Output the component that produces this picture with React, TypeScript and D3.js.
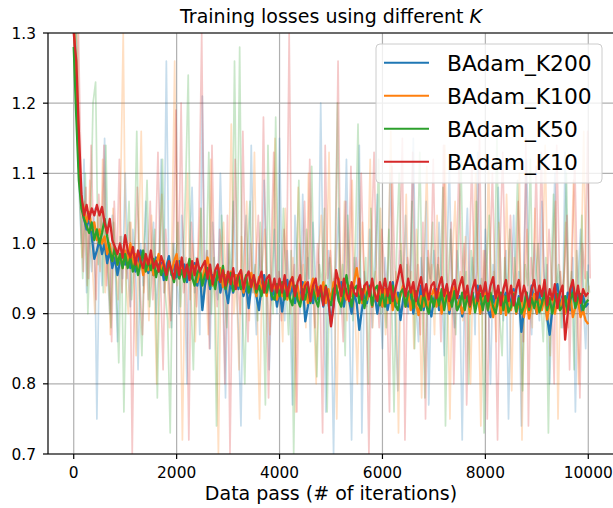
import { useMemo } from 'react'
import { scaleLinear, line, format } from 'd3'

// Training loss curves: faint raw losses + smoothed losses for four K values.
// Values are logged every STEP iterations (raw series are logged a few steps apart).

const STEP = 50
const X_TICKS = [0, 2000, 4000, 6000, 8000, 10000]
const Y_TICKS = [0.7, 0.8, 0.9, 1.0, 1.1, 1.2, 1.3]
const LABELS = ['BAdam_K200', 'BAdam_K100', 'BAdam_K50', 'BAdam_K10']
const COLORS = ['#1f77b4', '#ff7f0e', '#2ca02c', '#d62728']
const RAW_SHIFT = [0, 12, 25, 37]

const K200_SMOOTH = [
  1.32, 1.22, 1.12, 1.06, 1.035, 1.02, 1.04, 1.01, 0.978, 0.99,
  1.005, 0.985, 1.0, 0.972, 0.99, 0.965, 0.98, 0.955, 0.975, 0.985,
  0.97, 0.99, 0.965, 0.98, 0.96, 0.975, 0.99, 0.962, 0.978, 0.958,
  0.975, 0.955, 0.98, 0.96, 0.972, 0.948, 0.968, 0.982, 0.955, 0.97,
  0.952, 0.975, 0.958, 0.97, 0.945, 0.965, 0.95, 0.972, 0.94, 0.962,
  0.905, 0.94, 0.96, 0.935, 0.955, 0.94, 0.965, 0.93, 0.95, 0.935,
  0.915, 0.945, 0.93, 0.955, 0.935, 0.948, 0.925, 0.942, 0.908, 0.94,
  0.95, 0.925, 0.905, 0.94, 0.955, 0.93, 0.948, 0.92, 0.938, 0.91,
  0.935, 0.903, 0.93, 0.948, 0.925, 0.94, 0.915, 0.935, 0.92, 0.945,
  0.889, 0.91, 0.935, 0.915, 0.94, 0.92, 0.935, 0.91, 0.93, 0.918,
  0.885, 0.915, 0.94, 0.92, 0.945, 0.91, 0.935, 0.92, 0.9, 0.93,
  0.915, 0.877, 0.905, 0.93, 0.915, 0.94, 0.91, 0.928, 0.9, 0.925,
  0.91, 0.935, 0.905, 0.925, 0.945, 0.91, 0.93, 0.891, 0.92, 0.935,
  0.91, 0.93, 0.9, 0.925, 0.912, 0.94, 0.905, 0.925, 0.91, 0.896,
  0.92, 0.935, 0.905, 0.928, 0.912, 0.94, 0.9, 0.922, 0.935, 0.905,
  0.925, 0.896, 0.915, 0.935, 0.905, 0.93, 0.91, 0.94, 0.9, 0.925,
  0.935, 0.905, 0.895, 0.925, 0.91, 0.935, 0.9, 0.92, 0.93, 0.905,
  0.92, 0.935, 0.9, 0.925, 0.874, 0.905, 0.93, 0.91, 0.94, 0.915,
  0.9, 0.93, 0.91, 0.935, 0.895, 0.87, 0.905, 0.93, 0.942, 0.91,
  0.925, 0.9, 0.93, 0.905, 0.94, 0.912, 0.93, 0.9, 0.925, 0.91,
  0.915,
]

const K100_SMOOTH = [
  1.33, 1.21, 1.11, 1.06, 1.05, 1.03, 1.045, 1.02, 1.03, 1.005,
  1.02, 1.0, 1.01, 0.985, 1.0, 0.975, 0.995, 0.97, 0.985, 0.965,
  0.99, 0.975, 1.0, 0.97, 0.985, 0.96, 0.98, 0.955, 0.975, 0.962,
  0.98, 0.955, 0.97, 0.985, 0.96, 0.975, 0.95, 0.97, 0.958, 0.975,
  0.985, 0.955, 0.97, 0.948, 0.965, 0.975, 0.952, 0.968, 0.945, 0.96,
  0.95, 0.965, 0.98, 0.955, 0.94, 0.96, 0.948, 0.965, 0.938, 0.955,
  0.945, 0.96, 0.935, 0.955, 0.94, 0.962, 0.93, 0.95, 0.935, 0.958,
  0.94, 0.925, 0.952, 0.935, 0.945, 0.925, 0.95, 0.932, 0.945, 0.92,
  0.94, 0.925, 0.948, 0.92, 0.935, 0.952, 0.925, 0.94, 0.915, 0.935,
  0.945, 0.915, 0.935, 0.95, 0.92, 0.938, 0.925, 0.945, 0.915, 0.935,
  0.92, 0.945, 0.93, 0.95, 0.915, 0.935, 0.92, 0.94, 0.925, 0.945,
  0.965, 0.935, 0.915, 0.94, 0.92, 0.935, 0.91, 0.93, 0.92, 0.94,
  0.91, 0.935, 0.915, 0.94, 0.905, 0.93, 0.915, 0.925, 0.94, 0.91,
  0.93, 0.905, 0.935, 0.915, 0.898, 0.925, 0.91, 0.935, 0.905, 0.925,
  0.935, 0.91, 0.93, 0.9, 0.92, 0.935, 0.905, 0.925, 0.938, 0.905,
  0.92, 0.9, 0.915, 0.93, 0.9, 0.925, 0.91, 0.93, 0.9, 0.92,
  0.93, 0.905, 0.92, 0.895, 0.915, 0.93, 0.9, 0.925, 0.898, 0.92,
  0.905, 0.93, 0.9, 0.915, 0.925, 0.895, 0.92, 0.893, 0.912, 0.928,
  0.9, 0.92, 0.905, 0.925, 0.892, 0.915, 0.928, 0.9, 0.918, 0.905,
  0.922, 0.9, 0.915, 0.928, 0.895, 0.91, 0.92, 0.895, 0.905, 0.89,
  0.885,
]

const K50_SMOOTH = [
  1.28, 1.18, 1.09, 1.05, 1.035, 1.025, 1.015, 1.03, 1.005, 1.02,
  1.0, 1.015, 1.035, 1.01, 0.99, 0.975, 0.995, 0.97, 0.985, 0.965,
  0.985, 0.965, 0.98, 0.96, 0.975, 0.955, 0.972, 0.99, 0.96, 0.975,
  0.962, 0.978, 0.952, 0.97, 0.955, 0.968, 0.948, 0.975, 0.958, 0.945,
  0.968, 0.95, 0.962, 0.945, 0.96, 0.978, 0.952, 0.94, 0.958, 0.965,
  0.94, 0.955, 0.965, 0.94, 0.952, 0.935, 0.96, 0.945, 0.968, 0.935,
  0.95, 0.958, 0.932, 0.945, 0.955, 0.935, 0.94, 0.955, 0.93, 0.945,
  0.952, 0.93, 0.94, 0.925, 0.945, 0.93, 0.948, 0.925, 0.92, 0.942,
  0.925, 0.945, 0.92, 0.938, 0.922, 0.912, 0.94, 0.92, 0.91, 0.935,
  0.92, 0.94, 0.915, 0.935, 0.92, 0.91, 0.935, 0.915, 0.94, 0.92,
  0.912, 0.935, 0.94, 0.918, 0.91, 0.93, 0.955, 0.93, 0.91, 0.935,
  0.94, 0.915, 0.935, 0.908, 0.93, 0.938, 0.912, 0.935, 0.94, 0.912,
  0.93, 0.91, 0.935, 0.915, 0.94, 0.912, 0.905, 0.93, 0.935, 0.91,
  0.93, 0.935, 0.908, 0.932, 0.915, 0.905, 0.93, 0.912, 0.9, 0.925,
  0.91, 0.93, 0.912, 0.935, 0.905, 0.925, 0.93, 0.91, 0.932, 0.905,
  0.912, 0.93, 0.905, 0.925, 0.91, 0.93, 0.902, 0.92, 0.928, 0.905,
  0.925, 0.905, 0.93, 0.91, 0.9, 0.922, 0.93, 0.905, 0.925, 0.902,
  0.91, 0.928, 0.903, 0.922, 0.9, 0.91, 0.93, 0.905, 0.922, 0.908,
  0.925, 0.902, 0.915, 0.93, 0.905, 0.922, 0.9, 0.918, 0.928, 0.905,
  0.91, 0.925, 0.902, 0.92, 0.93, 0.908, 0.922, 0.928, 0.905, 0.915,
  0.92,
]

const K10_SMOOTH = [
  1.3, 1.26, 1.16, 1.07, 1.04, 1.055, 1.035, 1.05, 1.04, 1.055,
  1.04, 1.052, 1.03, 1.015, 1.035, 1.005, 0.995, 0.985, 1.0, 0.98,
  1.012, 0.99, 0.98, 0.995, 0.97, 0.99, 0.975, 0.965, 0.985, 0.97,
  0.99, 0.965, 0.975, 0.96, 0.982, 0.97, 0.955, 0.975, 0.962, 0.95,
  0.975, 0.955, 0.98, 0.952, 0.97, 0.948, 0.975, 0.955, 0.978, 0.96,
  0.968, 0.975, 0.95, 0.97, 0.942, 0.962, 0.97, 0.945, 0.962, 0.94,
  0.96, 0.942, 0.965, 0.935, 0.955, 0.962, 0.935, 0.952, 0.96, 0.938,
  0.955, 0.935, 0.948, 0.96, 0.93, 0.95, 0.955, 0.932, 0.95, 0.93,
  0.95, 0.93, 0.955, 0.925, 0.945, 0.952, 0.925, 0.945, 0.955, 0.92,
  0.94, 0.945, 0.918, 0.94, 0.95, 0.925, 0.94, 0.912, 0.938, 0.92,
  0.882, 0.91, 0.962, 0.945, 0.925, 0.95, 0.93, 0.918, 0.945, 0.93,
  0.925, 0.95, 0.92, 0.94, 0.945, 0.925, 0.95, 0.928, 0.918, 0.945,
  0.93, 0.95, 0.925, 0.945, 0.918, 0.935, 0.95, 0.969, 0.945, 0.925,
  0.95, 0.93, 0.945, 0.918, 0.938, 0.952, 0.925, 0.942, 0.92, 0.94,
  0.945, 0.922, 0.94, 0.952, 0.925, 0.942, 0.918, 0.938, 0.948, 0.922,
  0.94, 0.952, 0.922, 0.94, 0.912, 0.935, 0.948, 0.918, 0.94, 0.925,
  0.945, 0.918, 0.94, 0.952, 0.922, 0.94, 0.912, 0.935, 0.948, 0.918,
  0.94, 0.912, 0.935, 0.948, 0.918, 0.94, 0.925, 0.91, 0.935, 0.948,
  0.92, 0.94, 0.925, 0.948, 0.912, 0.935, 0.92, 0.942, 0.908, 0.93,
  0.94, 0.863, 0.9, 0.935, 0.948, 0.918, 0.94, 0.915, 0.935, 0.925,
  0.93,
]

const K200_RAW = [
  1.45, 1.3, 1.08, 1.0, 1.12, 0.93, 1.02, 0.96, 1.05, 0.75,
  1.0, 0.94, 1.15, 0.97, 0.9, 1.04, 0.98, 0.86, 1.01, 0.95,
  1.1, 0.96, 0.91, 1.02, 0.97, 0.82, 1.0, 0.94, 1.06, 0.92,
  0.98, 1.03, 0.9, 0.96, 1.12, 0.93, 1.26, 0.95, 0.88, 1.0,
  0.96, 0.9, 1.04, 0.97, 0.8, 0.99, 1.08, 0.93, 0.98, 0.87,
  1.21, 0.94, 0.99, 0.85, 1.03, 0.95, 0.92, 1.1, 0.96, 0.78,
  1.0, 0.93, 1.06, 0.96, 0.88, 0.74, 0.98, 1.04, 0.92, 1.14,
  0.95, 0.87, 1.0, 0.93, 1.09, 0.97, 0.82, 0.95, 1.02, 0.9,
  1.15, 0.94, 0.89, 0.99, 0.92, 0.77, 1.04, 0.96, 0.9, 1.07,
  0.93, 0.98, 0.86, 1.03, 0.95, 0.9, 1.2, 0.94, 0.76, 0.99,
  0.92, 0.7, 0.97, 1.05, 0.9, 0.95, 1.12, 0.93, 0.72, 0.98,
  0.94, 1.14, 0.73, 0.96, 0.91, 1.02, 0.88, 0.97, 1.07, 0.92,
  0.85, 0.98, 0.93, 1.1, 0.96, 0.89, 0.79, 0.99, 0.94, 1.04,
  0.9, 0.95, 1.15, 0.92, 0.86, 0.98, 0.93, 1.06, 0.77, 0.95,
  0.99, 0.91, 1.03, 0.94, 0.84, 0.97, 1.11, 0.92, 0.88, 0.99,
  0.94, 0.72, 0.96, 1.05, 0.91, 0.98, 0.87, 1.13, 0.93, 0.9,
  1.02, 0.94, 0.8, 0.97, 0.92, 1.08, 0.95, 0.89, 0.99, 0.75,
  0.93, 1.04, 0.9, 0.96, 0.74, 0.98, 1.12, 0.93, 0.87, 1.0,
  0.95, 0.89, 1.06, 0.92, 0.97, 0.8, 0.94, 1.1, 0.91, 0.96,
  0.88, 1.13, 0.94, 0.9, 0.98, 0.76, 0.95, 1.02, 0.92, 0.85,
  0.97,
]

const K100_RAW = [
  1.4, 1.35, 1.1, 0.98, 1.06, 0.94, 1.09, 0.97, 0.9, 1.04,
  0.96, 1.12, 0.93, 1.0, 0.87, 1.05, 0.97, 0.92, 1.08, 1.3,
  0.95, 0.9, 1.03, 0.96, 0.84, 1.0, 1.16, 0.93, 0.98, 0.89,
  1.04, 0.95, 0.8, 0.99, 1.07, 0.93, 0.97, 0.88, 1.02, 1.26,
  0.94, 0.98, 0.72, 0.96, 1.1, 0.92, 1.0, 0.86, 0.97, 1.05,
  0.91, 0.97, 0.87, 1.12, 0.95, 0.9, 0.7, 0.98, 1.03, 0.93,
  0.96, 1.17, 0.9, 0.95, 0.82, 1.01, 0.94, 1.06, 0.89, 0.97,
  1.13, 0.92, 0.75, 0.97, 1.02, 0.93, 0.87, 0.99, 1.15, 0.91,
  0.94, 0.86, 1.05, 0.95, 0.9, 0.98, 0.76, 1.08, 0.93, 0.97,
  0.88, 1.1, 0.94, 0.91, 0.8, 0.99, 1.04, 0.93, 0.96, 1.13,
  0.9, 0.95, 0.75, 1.0, 0.93, 1.06, 0.89, 0.96, 1.09, 0.92,
  0.8, 0.97, 1.03, 0.92, 0.95, 1.12, 0.88, 0.96, 0.9, 1.05,
  0.94, 0.87, 0.98, 1.16, 0.92, 0.96, 0.73, 1.0, 0.93, 1.07,
  0.91, 0.96, 0.85, 1.02, 0.94, 0.78, 0.98, 1.11, 0.92, 0.97,
  0.87, 1.04, 0.93, 0.9, 1.14, 0.95, 0.75, 0.98, 1.06, 0.92,
  0.96, 0.89, 1.01, 0.93, 0.8, 0.97, 1.1, 0.94, 0.74, 0.99,
  0.93, 1.12, 0.9, 0.96, 0.86, 1.03, 0.94, 0.91, 1.07, 0.95,
  0.79, 0.98, 0.93, 1.1, 0.72, 0.96, 1.02, 0.92, 0.88, 1.05,
  0.95, 0.9, 0.97, 1.14, 0.93, 0.84, 0.99, 1.06, 0.75, 0.96,
  0.92, 1.03, 0.88, 0.95, 1.09, 0.93, 0.8, 0.97, 1.16, 0.9,
  0.94,
]

const K50_RAW = [
  1.35, 1.24, 1.05, 0.95, 1.1, 0.9, 1.02, 1.2, 1.23, 0.97,
  1.05, 0.93, 1.14, 0.96, 0.88, 1.03, 0.95, 0.83, 1.01, 0.76,
  0.98, 1.06, 0.92, 0.97, 1.16, 0.94, 0.84, 1.0, 1.09, 0.91,
  0.96, 1.02, 0.78, 0.97, 1.12, 0.93, 0.89, 0.73, 1.0, 0.95,
  1.03, 0.91, 0.97, 1.08, 1.24, 0.93, 0.82, 0.98, 0.94, 1.05,
  0.92, 0.96, 1.13, 0.9, 0.98, 0.74, 0.95, 1.04, 0.93, 0.88,
  1.0, 0.94, 1.26, 0.96, 1.28, 0.91, 0.8, 0.99, 1.06, 0.93,
  0.97, 0.89, 1.03, 0.94, 0.77, 1.14, 0.95, 0.9, 1.18, 0.96,
  0.92, 1.05, 0.94, 0.87, 0.99, 0.7, 0.96, 1.09, 0.93, 0.9,
  1.02, 0.95, 1.11, 0.92, 0.81, 0.97, 0.94, 1.05, 0.76, 0.98,
  0.93, 0.96, 1.2, 0.9, 0.97, 0.84, 1.04, 0.94, 0.89, 1.0,
  1.17, 0.94, 0.91, 0.98, 0.8, 1.05, 0.93, 0.97, 1.12, 0.9,
  0.95, 0.88, 1.02, 0.93, 0.76, 0.99, 1.1, 0.94, 0.91, 0.97,
  0.92, 1.06, 0.85, 0.96, 1.13, 0.93, 0.78, 0.98, 0.95, 1.03,
  0.9, 0.97, 0.94, 1.08, 0.74, 0.95, 1.02, 0.92, 0.87, 0.99,
  1.12, 0.93, 0.96, 0.8, 0.99, 0.94, 1.06, 0.91, 0.95, 0.73,
  0.97, 1.04, 0.92, 0.95, 1.15, 0.9, 0.84, 0.98, 0.93, 1.02,
  0.91, 0.96, 1.09, 0.93, 0.79, 0.97, 0.94, 1.12, 0.9, 0.95,
  1.0, 0.92, 0.86, 0.98, 0.73, 0.95, 1.07, 0.93, 0.97, 0.88,
  0.94, 1.1, 0.91, 0.96, 0.82, 0.99, 0.93, 1.04, 0.9, 0.96,
  0.93,
]

const K10_RAW = [
  1.38, 1.32, 1.12, 0.96, 1.08, 0.95, 1.14, 1.0, 0.92, 1.07,
  0.99, 1.14, 0.94, 1.02, 0.86, 1.06, 0.97, 1.12, 0.93, 1.01,
  0.95, 1.03, 0.7, 0.98, 1.08, 0.94, 0.87, 1.0, 0.96, 1.06,
  0.92, 0.99, 1.13, 0.95, 0.82, 1.02, 0.96, 0.89, 1.0, 1.19,
  0.95, 1.2, 0.93, 0.98, 0.72, 1.03, 0.96, 0.91, 1.05, 1.3,
  0.94, 0.99, 0.85, 1.14, 0.95, 0.91, 1.02, 0.97, 0.8, 1.04,
  0.7, 0.97, 1.12, 0.94, 0.9, 1.16, 0.96, 0.86, 1.0, 0.93,
  0.97, 1.04, 0.92, 1.18, 0.95, 0.78, 0.99, 1.13, 0.93, 0.96,
  0.89, 1.02, 0.95, 1.3, 0.93, 0.97, 0.76, 1.0, 0.94, 1.06,
  0.92, 1.12, 0.96, 0.88, 1.0, 0.94, 0.73, 1.14, 0.95, 0.99,
  0.93, 0.97, 1.26, 0.94, 0.86, 1.06, 0.95, 1.11, 0.9, 0.98,
  0.94, 1.1, 0.96, 0.91, 0.7, 1.0, 1.13, 0.95, 0.88, 1.02,
  0.96, 0.93, 0.76, 1.11, 0.97, 0.92, 1.0, 1.15, 0.72, 0.98,
  0.95, 1.13, 0.91, 0.97, 0.87, 1.03, 0.75, 0.99, 0.94, 1.12,
  0.93, 0.98, 0.86, 1.14, 0.96, 0.91, 1.03, 0.8, 0.97, 1.11,
  0.95, 1.0, 0.77, 0.97, 1.12, 0.93, 0.96, 1.15, 0.9, 0.99,
  0.75, 0.97, 1.1, 0.94, 0.72, 1.0, 1.13, 0.95, 0.91, 1.04,
  0.96, 0.92, 1.06, 0.95, 0.86, 1.15, 0.74, 0.98, 0.94, 1.11,
  0.93, 1.13, 0.96, 0.89, 1.02, 0.95, 0.8, 1.14, 0.97, 0.92,
  0.96, 1.04, 0.82, 0.98, 1.12, 0.94, 0.78, 1.0, 0.95, 1.16,
  0.95,
]

const SMOOTH = [K200_SMOOTH, K100_SMOOTH, K50_SMOOTH, K10_SMOOTH]
const RAW = [K200_RAW, K100_RAW, K50_RAW, K10_RAW]

const W = 613
const H = 508
const M = { left: 48, top: 33, right: 614, bottom: 454 }
const FONT = 'DejaVu Sans, sans-serif'

export default function App() {
  const x = useMemo(() => scaleLinear().domain([-500, 10500]).range([M.left, M.right]), [])
  const y = useMemo(() => scaleLinear().domain([0.7, 1.3]).range([M.bottom, M.top]), [])
  const fmtY = format('.1f')

  const path = (vals: number[], shift: number) =>
    line<number>()
      .x((_, i) => x(i * STEP + shift))
      .y((d) => y(d))(vals) ?? ''

  const legendRows = LABELS.map((_, i) => 62.7 + i * 33)

  return (
    <svg width={W} height={H} style={{ position: 'absolute', left: 0, top: 0, background: '#fff' }} fontFamily={FONT}>
      <defs>
        <clipPath id="plot">
          <rect x={M.left} y={M.top} width={M.right - M.left} height={M.bottom - M.top} />
        </clipPath>
      </defs>

      {/* grid */}
      <g stroke="#b0b0b0" strokeWidth={1.2}>
        {X_TICKS.map((t) => (
          <line key={`gx${t}`} x1={x(t)} x2={x(t)} y1={M.top} y2={M.bottom} />
        ))}
        {Y_TICKS.map((t) => (
          <line key={`gy${t}`} x1={M.left} x2={M.right} y1={y(t)} y2={y(t)} />
        ))}
      </g>

      <g clipPath="url(#plot)" fill="none" strokeLinejoin="round">
        {RAW.map((vals, i) => (
          <path key={`r${i}`} d={path(vals, RAW_SHIFT[i])} stroke={COLORS[i]} strokeOpacity={0.25} strokeWidth={1.7} />
        ))}
        {SMOOTH.map((vals, i) => (
          <path key={`s${i}`} d={path(vals, 0)} stroke={COLORS[i]} strokeWidth={2.3} />
        ))}
      </g>

      {/* spines */}
      <g stroke="#000" strokeWidth={1.2} fill="none">
        <line x1={M.left} x2={M.left} y1={M.top} y2={M.bottom} />
        <line x1={M.left} x2={M.right} y1={M.bottom} y2={M.bottom} />
        <line x1={M.left} x2={M.right} y1={M.top} y2={M.top} />
      </g>

      {/* x axis */}
      {X_TICKS.map((t) => (
        <g key={`xt${t}`}>
          <line x1={x(t)} x2={x(t)} y1={M.bottom} y2={M.bottom + 5} stroke="#000" strokeWidth={1.2} />
          <text x={x(t)} y={478} textAnchor="middle" fontSize={15.4} fill="#000">
            {t}
          </text>
        </g>
      ))}
      {/* y axis */}
      {Y_TICKS.map((t) => (
        <g key={`yt${t}`}>
          <line x1={M.left - 5} x2={M.left} y1={y(t)} y2={y(t)} stroke="#000" strokeWidth={1.2} />
          <text x={36} y={y(t) + 5.6} textAnchor="end" fontSize={15.4} fill="#000">
            {fmtY(t)}
          </text>
        </g>
      ))}

      <text x={331} y={23} textAnchor="middle" fontSize={19} fill="#000">
        Training losses using different <tspan fontStyle="italic">K</tspan>
      </text>
      <text x={331} y={500} textAnchor="middle" fontSize={19} fill="#000">
        Data pass (# of iterations)
      </text>

      {/* legend */}
      <rect x={376} y={44} width={226} height={139} rx={4} fill="#fff" fillOpacity={0.8} stroke="#cccccc" strokeWidth={1} />
      {LABELS.map((lab, i) => (
        <g key={lab}>
          <line x1={384} x2={429} y1={legendRows[i]} y2={legendRows[i]} stroke={COLORS[i]} strokeWidth={2} />
          <text x={447} y={legendRows[i] + 8} fontSize={21.8} fill="#000">
            {lab}
          </text>
        </g>
      ))}
    </svg>
  )
}
